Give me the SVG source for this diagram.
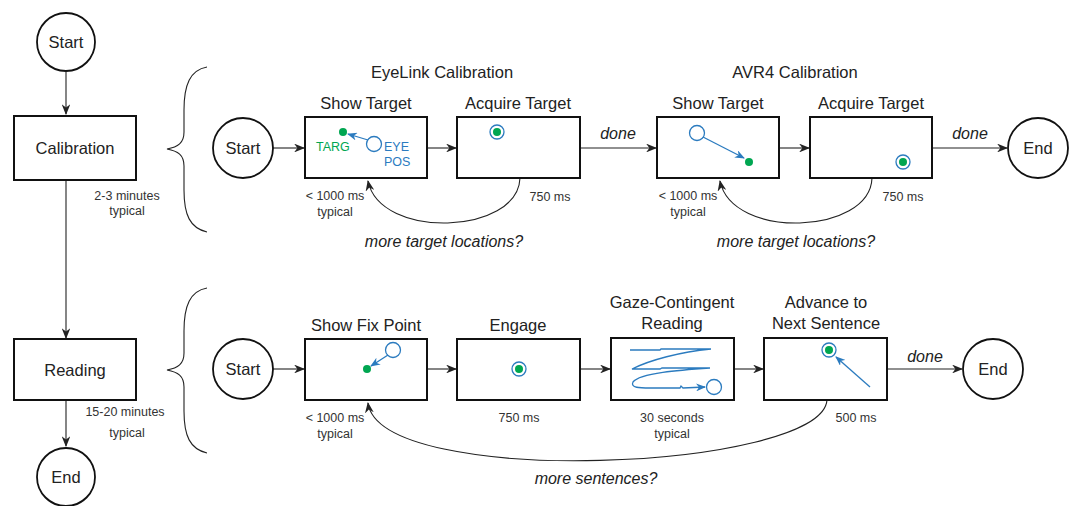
<svg xmlns="http://www.w3.org/2000/svg" width="1078" height="506" viewBox="0 0 1078 506">
<style>
.box{fill:#fff;stroke:#111;stroke-width:2}
.circ{fill:#fff;stroke:#111;stroke-width:1.8}
.t{font-family:"Liberation Sans",Arial,sans-serif;font-size:16.5px;fill:#222;text-anchor:middle}
.s{font-family:"Liberation Sans",Arial,sans-serif;font-size:12.5px;fill:#333;text-anchor:middle}
.i{font-family:"Liberation Sans",Arial,sans-serif;font-size:16px;fill:#222;font-style:italic;text-anchor:middle}
.bl{font-family:"Liberation Sans",Arial,sans-serif;font-size:12.5px;fill:#2b7bbf}
.gr{font-family:"Liberation Sans",Arial,sans-serif;font-size:12.5px;fill:#00a651}
.c{fill:none;stroke:#222;stroke-width:1.1}
.bc{fill:none;stroke:#2b7bbf;stroke-width:1.3}
.eye{fill:#fff;stroke:#2b7bbf;stroke-width:1.3}
.dot{fill:#00a651}
</style>
<defs>
<marker id="ah" viewBox="0 0 10 8" refX="9" refY="4" markerWidth="11" markerHeight="8.8" markerUnits="userSpaceOnUse" orient="auto">
<path d="M0,0 L10,4 L0,8 L3,4 z" fill="#222"/>
</marker>
<marker id="bh" viewBox="0 0 10 8" refX="9" refY="4" markerWidth="10" markerHeight="8" markerUnits="userSpaceOnUse" orient="auto">
<path d="M0,0 L10,4 L0,8 L3,4 z" fill="#2b7bbf"/>
</marker>
</defs>

<g id="connectors">
<line class="c" x1="66" y1="72" x2="66" y2="114" marker-end="url(#ah)"/>
<line class="c" x1="66" y1="180" x2="66" y2="338" marker-end="url(#ah)"/>
<line class="c" x1="66" y1="400" x2="66" y2="446" marker-end="url(#ah)"/>
<path class="c" d="M207,67 C190,70 184,85 184,110 L184,132 C184,143 178,147 167,149 C178,151 184,155 184,166 L184,190 C184,215 190,228 207,232"/>
<path class="c" d="M207,288 C190,291 184,306 184,331 L184,353 C184,364 178,368 167,370 C178,372 184,376 184,387 L184,411 C184,436 190,449 207,453"/>
<line class="c" x1="273" y1="148" x2="304" y2="148" marker-end="url(#ah)"/>
<line class="c" x1="428" y1="148" x2="456" y2="148" marker-end="url(#ah)"/>
<line class="c" x1="580" y1="148" x2="656" y2="148" marker-end="url(#ah)"/>
<line class="c" x1="779" y1="148" x2="809" y2="148" marker-end="url(#ah)"/>
<line class="c" x1="932" y1="148" x2="1007" y2="148" marker-end="url(#ah)"/>
<path class="c" d="M520,178 C518,235 380,240 368,181" marker-end="url(#ah)"/>
<path class="c" d="M872,178 C870,235 732,240 720,181" marker-end="url(#ah)"/>
<line class="c" x1="273" y1="369" x2="304" y2="369" marker-end="url(#ah)"/>
<line class="c" x1="427" y1="369" x2="456" y2="369" marker-end="url(#ah)"/>
<line class="c" x1="580" y1="369" x2="610" y2="369" marker-end="url(#ah)"/>
<line class="c" x1="734" y1="369" x2="763" y2="369" marker-end="url(#ah)"/>
<line class="c" x1="887" y1="369" x2="962" y2="369" marker-end="url(#ah)"/>
<path class="c" d="M827,400 C822,470 380,490 368,403" marker-end="url(#ah)"/>
</g>

<g id="labels">
<text class="s" x="127" y="200">2-3 minutes</text>
<text class="s" x="127" y="215">typical</text>
<text class="s" x="125" y="416">15-20 minutes</text>
<text class="s" x="127" y="437">typical</text>
<text class="t" x="442" y="78">EyeLink Calibration</text>
<text class="t" x="795" y="78">AVR4 Calibration</text>
<text class="i" x="618" y="139">done</text>
<text class="i" x="970" y="139">done</text>
<text class="i" x="925" y="362">done</text>
<text class="s" x="335" y="200">&lt; 1000 ms</text>
<text class="s" x="335" y="216">typical</text>
<text class="s" x="550" y="201">750 ms</text>
<text class="i" x="444" y="247">more target locations?</text>
<text class="s" x="688" y="200">&lt; 1000 ms</text>
<text class="s" x="688" y="216">typical</text>
<text class="s" x="903" y="201">750 ms</text>
<text class="i" x="796" y="247">more target locations?</text>
<text class="s" x="335" y="422">&lt; 1000 ms</text>
<text class="s" x="335" y="438">typical</text>
<text class="s" x="519" y="422">750 ms</text>
<text class="s" x="672" y="422">30 seconds</text>
<text class="s" x="672" y="438">typical</text>
<text class="s" x="856" y="422">500 ms</text>
<text class="i" x="596" y="484">more sentences?</text>
</g>

<g id="start-main"><circle class="circ" cx="66" cy="42" r="29"/><text class="t" x="66" y="48">Start</text></g>
<g id="calibration"><rect class="box" x="14" y="116" width="122" height="64"/><text class="t" x="75" y="154">Calibration</text></g>
<g id="reading"><rect class="box" x="14" y="339" width="122" height="61"/><text class="t" x="75" y="376">Reading</text></g>
<g id="end-main"><circle class="circ" cx="66" cy="477" r="29"/><text class="t" x="66" y="483">End</text></g>

<g id="cal-start"><circle class="circ" cx="243" cy="148" r="30"/><text class="t" x="243" y="154">Start</text></g>
<g id="el-show">
<text class="t" x="366" y="109">Show Target</text>
<rect class="box" x="305" y="117" width="122" height="61"/>
<circle class="dot" cx="343" cy="132" r="4"/>
<line class="bc" x1="368" y1="140" x2="348" y2="134" marker-end="url(#bh)"/>
<circle class="eye" cx="374" cy="144" r="7.5"/>
<text class="gr" x="316" y="151">TARG</text>
<text class="bl" x="384" y="151">EYE</text>
<text class="bl" x="384" y="166">POS</text>
</g>
<g id="el-acquire">
<text class="t" x="518" y="109">Acquire Target</text>
<rect class="box" x="457" y="117" width="123" height="61"/>
<circle class="eye" cx="497" cy="132" r="7"/><circle class="dot" cx="497" cy="132" r="4"/>
</g>
<g id="avr-show">
<text class="t" x="718" y="109">Show Target</text>
<rect class="box" x="657" y="117" width="122" height="61"/>
<circle class="eye" cx="697" cy="133" r="7.5"/>
<line class="bc" x1="703" y1="137" x2="744" y2="158" marker-end="url(#bh)"/>
<circle class="dot" cx="749" cy="162" r="4"/>
</g>
<g id="avr-acquire">
<text class="t" x="871" y="109">Acquire Target</text>
<rect class="box" x="810" y="117" width="122" height="61"/>
<circle class="eye" cx="903" cy="162" r="7"/><circle class="dot" cx="903" cy="162" r="4"/>
</g>
<g id="cal-end"><circle class="circ" cx="1038" cy="148" r="30"/><text class="t" x="1038" y="154">End</text></g>

<g id="read-start"><circle class="circ" cx="243" cy="369" r="30"/><text class="t" x="243" y="375">Start</text></g>
<g id="fix-point">
<text class="t" x="366" y="331">Show Fix Point</text>
<rect class="box" x="305" y="339" width="122" height="61"/>
<circle class="eye" cx="393" cy="350" r="7.5"/>
<line class="bc" x1="388" y1="355" x2="371" y2="366" marker-end="url(#bh)"/>
<circle class="dot" cx="367" cy="369" r="4"/>
</g>
<g id="engage">
<text class="t" x="518" y="331">Engage</text>
<rect class="box" x="457" y="339" width="123" height="61"/>
<circle class="eye" cx="519" cy="369" r="7"/><circle class="dot" cx="519" cy="369" r="4"/>
</g>
<g id="gaze">
<text class="t" x="672" y="308">Gaze-Contingent</text>
<text class="t" x="672" y="329">Reading</text>
<rect class="box" x="611" y="338" width="123" height="62"/>
<path class="bc" stroke-width="1" d="M630,350 L660,350 L661,349 L690,349 L711,349 C680,352 650,360 632,369 L660,369 L662,368 L710,368 C680,370 640,373 633,382 C630,388 640,388 650,388 L680,388 L681,386 L683,388 L705,387" marker-end="url(#bh)"/>
<circle class="eye" cx="714" cy="387" r="7.5"/>
</g>
<g id="advance">
<text class="t" x="826" y="308">Advance to</text>
<text class="t" x="826" y="329">Next Sentence</text>
<rect class="box" x="764" y="338" width="123" height="62"/>
<line class="bc" x1="870" y1="387" x2="836" y2="357" marker-end="url(#bh)"/>
<circle class="eye" cx="829" cy="350" r="7"/><circle class="dot" cx="829" cy="350" r="4"/>
</g>
<g id="read-end"><circle class="circ" cx="993" cy="369" r="30"/><text class="t" x="993" y="375">End</text></g>
</svg>
